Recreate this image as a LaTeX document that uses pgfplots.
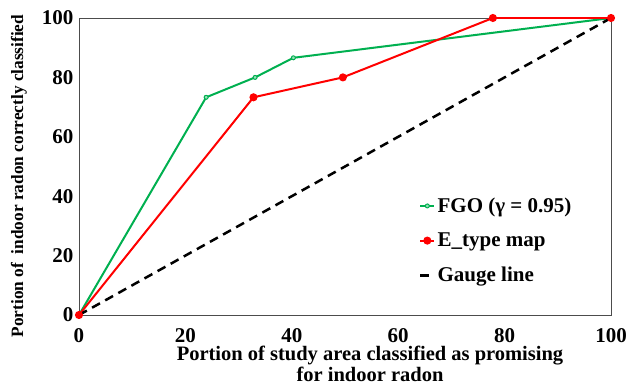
\documentclass[border=0pt]{standalone}
\usepackage{pgfplots}
\pgfplotsset{compat=1.18}
\usepackage{fontspec}
\setmainfont{Liberation Serif}
\definecolor{fgo}{RGB}{0,176,80}
\definecolor{etype}{RGB}{255,0,0}
\begin{document}
\begin{tikzpicture}
\begin{axis}[
  scale only axis,
  width=532pt, height=297pt,
  xmin=0, xmax=100, ymin=0, ymax=100,
  xtick={0,20,40,60,80,100},
  ytick={0,20,40,60,80,100},
  major tick length=0pt,
  axis line style={draw=black!70, line width=0.9pt},
  /pgf/number format/assume math mode=true,
  tick label style={font=\fontsize{21}{23}\selectfont\bfseries},
  xticklabel style={yshift=-10pt},
  yticklabel style={xshift=-2pt},
  xlabel={Portion of study area classified as promising\\for indoor radon},
  xlabel style={font=\fontsize{20.5}{21}\selectfont\bfseries, align=center,
    at={(axis description cs:0.547,-0.104)}, anchor=north, inner sep=0pt},
  ylabel={Portion of\ \ indoor radon correctly classified},
  ylabel style={font=\fontsize{17.3}{19}\selectfont\bfseries,
    at={(axis description cs:-0.113,0.468)}, anchor=center, inner sep=0pt},
  legend style={draw=none, fill=none, at={(axis description cs:0.637,0.405)}, anchor=north west,
    font=\fontsize{21}{23}\selectfont\bfseries, row sep=15pt, inner sep=1pt},
  legend cell align=left,
  legend image code/.code={\draw[mark repeat=2,mark phase=2,#1] plot coordinates {(0pt,0pt)(7pt,0pt)(14pt,0pt)};},
]
\coordinate (O) at (rel axis cs:0,0);
\addplot[color=fgo, line width=2pt, mark=*, mark size=2pt, mark options={fill=fgo!40!white, line width=1pt}]
  coordinates {(0,0)(23.9,73.3)(33.1,80)(40.3,86.6)(100,100)};
\addlegendentry{FGO (γ = 0.95)}
\addplot[color=etype, line width=2pt, mark=*, mark size=3pt, mark options={fill=etype}]
  coordinates {(0,0)(32.8,73.3)(49.6,80)(77.8,100)(100,100)};
\addlegendentry{E\_type map}
\addplot[color=black, line width=2.5pt, dash pattern=on 9pt off 6pt]
  coordinates {(0,0)(100,100)};
\addlegendentry{Gauge line}
\end{axis}
\pgfresetboundingbox
\path (O) ++(-79pt,-72pt) rectangle ++(629pt,387pt);
\end{tikzpicture}
\end{document}
